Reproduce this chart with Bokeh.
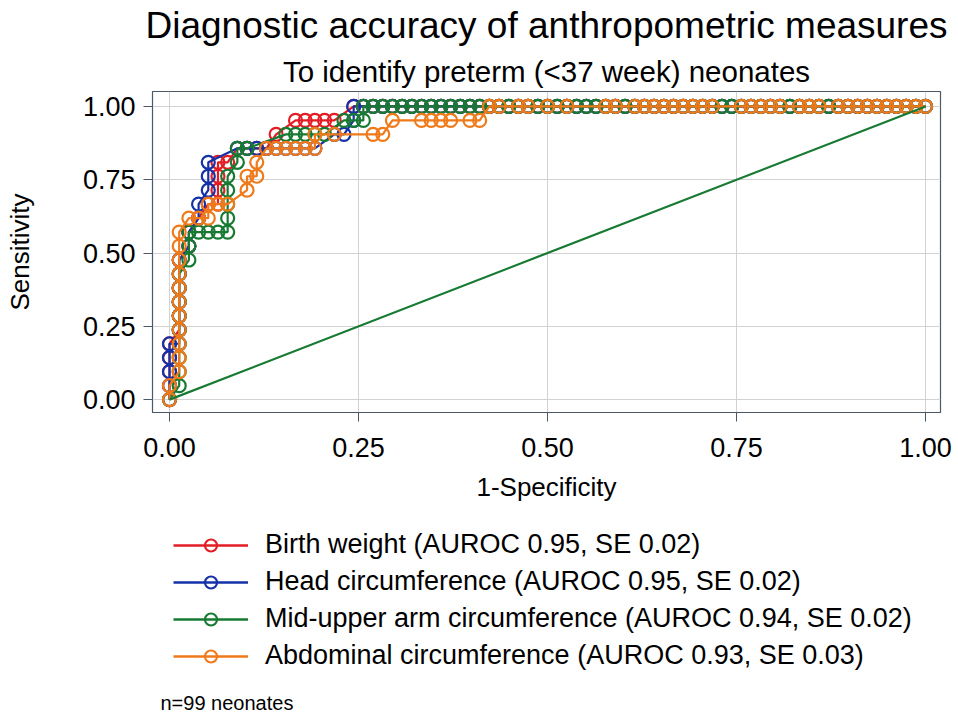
from bokeh.plotting import figure
from bokeh.layouts import column
from bokeh.models import Legend, LegendItem, Title, Label, FixedTicker, NumeralTickFormatter, Range1d
from bokeh.embed import file_html
from bokeh.resources import INLINE

# ---- data (counts read from the ROC steps: 78 term / 21 preterm neonates) ----
N_NEG = 78
N_POS = 21

top_run = [20, 21, 22, 23, 24, 25, 26, 27, 28, 29, 30, 31, 32, 33, 34, 35, 36, 37, 38, 39,
           40, 41, 42, 43, 44, 45, 46, 47, 48, 49, 50, 51, 52, 53, 54, 55, 56, 57, 58, 59,
           60, 61, 62, 63, 64, 65, 66, 67, 68, 69, 70, 71, 72, 73, 74, 75, 76, 77, 78]

bw_fp = [0, 0, 0, 0, 0, 1, 1, 1, 1, 1, 1, 2, 2, 3, 4, 5, 5, 5, 5, 6, 7, 8, 9, 10, 11,
         13, 14, 15, 16, 17, 19] + top_run
bw_tp = [0, 1, 2, 3, 4, 5, 6, 7, 8, 9, 10, 11, 12, 13, 14, 14, 15, 16, 17, 17, 18, 18, 18, 18, 19,
         20, 20, 20, 20, 20, 21] + [21] * len(top_run)

hc_fp = [0, 0, 0, 0, 0, 1, 1, 1, 1, 1, 1, 1, 2, 2, 3, 3, 4, 4, 4, 7, 8, 9, 10, 11, 12, 13, 14, 15,
         17, 18, 19, 19] + top_run
hc_tp = [0, 1, 2, 3, 4, 4, 5, 6, 7, 8, 9, 10, 11, 12, 13, 14, 15, 16, 17, 18, 18, 18, 18, 18, 18, 18, 18, 18,
         19, 19, 20, 21] + [21] * len(top_run)

muac_fp = [0, 1, 1, 1, 1, 1, 1, 1, 1, 1, 2, 2, 2, 3, 4, 5, 6, 6, 6, 6, 6, 7, 7, 8,
           12, 13, 14, 15, 16, 18, 19, 20] + top_run
muac_tp = [0, 1, 2, 3, 4, 5, 6, 7, 8, 9, 10, 11, 12, 12, 12, 12, 12, 13, 14, 15, 16, 17, 18, 18,
           19, 19, 19, 19, 19, 20, 20, 20] + [21] * len(top_run)

ac_fp = [0, 0, 1, 1, 1, 1, 1, 1, 1, 1, 1, 1, 1, 2, 3, 4, 4, 5, 6, 8, 8, 9, 9,
         10, 11, 12, 13, 14, 15, 15, 17, 21, 22, 23, 26, 27, 28, 29, 31, 32,
         33, 34, 36, 37, 39, 41, 45, 46, 48, 49, 50, 51, 52, 53, 54, 55, 56, 59, 60, 61, 62, 63,
         65, 66, 67, 69, 70, 71, 72, 73, 74, 75, 76, 77, 78]
ac_tp = [0, 1, 2, 3, 4, 5, 6, 7, 8, 9, 10, 11, 12, 13, 13, 13, 14, 14, 14, 15, 16, 16, 17,
         18, 18, 18, 18, 18, 18, 19, 19, 19, 19, 20, 20, 20, 20, 20, 20, 20,
         21, 21, 21, 21, 21, 21, 21, 21, 21, 21, 21, 21, 21, 21, 21, 21, 21, 21, 21, 21, 21, 21,
         21, 21, 21, 21, 21, 21, 21, 21, 21, 21, 21, 21, 21]

series_names = [
    "Birth weight (AUROC 0.95, SE 0.02)",
    "Head circumference (AUROC 0.95, SE 0.02)",
    "Mid-upper arm circumference (AUROC 0.94, SE 0.02)",
    "Abdominal circumference (AUROC 0.93, SE 0.03)",
]
series_fp = [bw_fp, hc_fp, muac_fp, ac_fp]
series_tp = [bw_tp, hc_tp, muac_tp, ac_tp]
series_colors = ["#e31d25", "#1431a8", "#177a32", "#f07a1a"]

ref_x = [0.0, 1.0]
ref_y = [0.0, 1.0]

x_ticks = [0.0, 0.25, 0.5, 0.75, 1.0]
y_ticks = [0.0, 0.25, 0.5, 0.75, 1.0]

FONT = "Liberation Sans"
AXIS_COLOR = "#4a5868"
NAN = float("nan")

# ---------------- main chart ----------------
p = figure(width=958, height=515, output_backend="svg", toolbar_location=None,
           x_range=Range1d(-0.0225, 1.0198), y_range=Range1d(-0.044, 1.051),
           min_border_left=152, min_border_right=18, min_border_top=90, min_border_bottom=103)
p.background_fill_color = "white"
p.border_fill_color = "white"
p.outline_line_color = AXIS_COLOR
p.outline_line_width = 1.2

for ax, ticks in ((p.xaxis, x_ticks), (p.yaxis, y_ticks)):
    ax.ticker = FixedTicker(ticks=ticks)
    ax.formatter = NumeralTickFormatter(format="0.00")
    ax.axis_line_color = AXIS_COLOR
    ax.major_tick_line_color = AXIS_COLOR
    ax.major_tick_out = 9
    ax.major_tick_in = 0
    ax.minor_tick_line_color = None
    ax.major_label_text_font = FONT
    ax.major_label_text_font_size = "27px"
    ax.major_label_text_color = "black"
    ax.axis_label_text_font = FONT
    ax.axis_label_text_font_size = "26px"
    ax.axis_label_text_font_style = "normal"
    ax.axis_label_text_color = "black"

p.xaxis.axis_label = "1-Specificity"
p.yaxis.axis_label = "Sensitivity"
p.yaxis.major_label_orientation = "horizontal"
p.xaxis.major_label_standoff = 16
p.xaxis.axis_label_standoff = 12
p.yaxis.major_label_standoff = 8
p.yaxis.axis_label_standoff = 45

p.xgrid.grid_line_color = "#d2d2d2"
p.ygrid.grid_line_color = "#d2d2d2"
p.xgrid.grid_line_width = 1
p.ygrid.grid_line_width = 1

for fp, tp, col in zip(series_fp, series_tp, series_colors):
    xs = [v / N_NEG for v in fp]
    ys = [v / N_POS for v in tp]
    p.line(xs, ys, line_color=col, line_width=2.2)
    p.scatter(xs, ys, marker="circle", size=13, fill_color=None,
              line_color=col, line_width=2.2)

p.line(ref_x, ref_y, line_color="#177a32", line_width=2.2)

p.add_layout(Title(text="To identify preterm (<37 week) neonates", align="center",
                   standoff=8, text_font=FONT, text_font_size="29.5px",
                   text_font_style="normal", text_color="black"), "above")
p.add_layout(Title(text="Diagnostic accuracy of anthropometric measures", align="center",
                   standoff=5, text_font=FONT, text_font_size="37px",
                   text_font_style="normal", text_color="black"), "above")

# ---------------- legend and note panel (frame aligned with the chart's frame) ----------------
q = figure(width=958, height=200, output_backend="svg", toolbar_location=None,
           x_range=Range1d(0, 1), y_range=Range1d(0, 1),
           min_border_left=0, min_border_right=0, min_border_top=0, min_border_bottom=0)
q.axis.visible = False
q.grid.visible = False
q.outline_line_color = None
q.background_fill_color = "white"
q.border_fill_color = "white"

items = []
for name, col in zip(series_names, series_colors):
    # legend-only proxies (no visible data)
    lr = q.line(x=[NAN], y=[NAN], line_color=col, line_width=2.4)
    sr = q.scatter(x=[NAN], y=[NAN], marker="circle", size=11, fill_color=None,
                   line_color=col, line_width=2.2)
    items.append(LegendItem(label=name, renderers=[lr, sr]))

legend = Legend(items=items, location=(21, 44), orientation="vertical",
                glyph_width=75, glyph_height=30, label_height=30, label_standoff=17,
                spacing=6, padding=0, margin=0, border_line_alpha=0,
                background_fill_alpha=0, label_text_font=FONT,
                label_text_font_size="27px", label_text_color="black")
q.add_layout(legend)

q.add_layout(Label(x=8, y=13, x_units="screen", y_units="screen",
                   text="n=99 neonates", text_align="left", text_baseline="middle",
                   text_font=FONT, text_font_size="20px", text_color="black"))

layout = column(p, q, spacing=0)
open("out.html", "w").write(file_html(layout, INLINE))
